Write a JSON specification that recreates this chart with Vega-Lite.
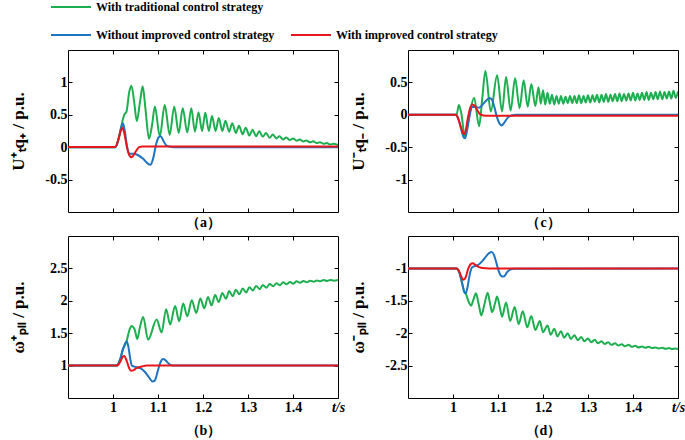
{
 "$schema": "https://vega.github.io/schema/vega-lite/v6.json",
 "background": "white",
 "padding": {"left": 8, "top": -14, "right": 0, "bottom": 0},
 "datasets": {
  "a": [
   {"s":"R","t":0.9,"v":0.005},{"s":"R","t":1.005,"v":0.005},{"s":"R","t":1.012,"v":0.12},{"s":"R","t":1.018,"v":0.27},{"s":"R","t":1.021,"v":0.30},{"s":"R","t":1.025,"v":0.22},{"s":"R","t":1.031,"v":0.0},{"s":"R","t":1.036,"v":-0.12},{"s":"R","t":1.041,"v":-0.155},{"s":"R","t":1.046,"v":-0.12},{"s":"R","t":1.052,"v":-0.05},{"s":"R","t":1.058,"v":0.0},{"s":"R","t":1.066,"v":0.012},{"s":"R","t":1.09,"v":0.01},{"s":"R","t":1.5,"v":0.01},
   {"s":"B","t":0.9,"v":0},{"s":"B","t":1.005,"v":0},{"s":"B","t":1.012,"v":0.12},{"s":"B","t":1.018,"v":0.30},{"s":"B","t":1.022,"v":0.37},{"s":"B","t":1.026,"v":0.26},{"s":"B","t":1.031,"v":0.02},{"s":"B","t":1.036,"v":-0.10},{"s":"B","t":1.045,"v":-0.10},{"s":"B","t":1.055,"v":-0.12},{"s":"B","t":1.067,"v":-0.18},{"s":"B","t":1.077,"v":-0.25},{"s":"B","t":1.083,"v":-0.27},{"s":"B","t":1.089,"v":-0.18},{"s":"B","t":1.095,"v":0.02},{"s":"B","t":1.101,"v":0.15},{"s":"B","t":1.106,"v":0.17},{"s":"B","t":1.112,"v":0.10},{"s":"B","t":1.118,"v":0.03},{"s":"B","t":1.125,"v":0.01},{"s":"B","t":1.135,"v":0},{"s":"B","t":1.5,"v":0},
   {"s":"G","t":0.9,"v":0},{"s":"G","t":1.005,"v":0},{"s":"G","t":1.012,"v":0.12},{"s":"G","t":1.018,"v":0.30},{"s":"G","t":1.021,"v":0.40},{"s":"G","t":1.025,"v":0.50},{"s":"G","t":1.030,"v":0.55},{"s":"G","t":1.036,"v":0.85},{"s":"G","t":1.041,"v":0.95},{"s":"G","t":1.047,"v":0.70},{"s":"G","t":1.053,"v":0.40},{"s":"G","t":1.060,"v":0.70},{"s":"G","t":1.066,"v":0.94},{"s":"G","t":1.072,"v":0.60},{"s":"G","t":1.080,"v":0.13},{"s":"G","t":1.087,"v":0.35},{"s":"G","t":1.093,"v":0.63},{"s":"G","t":1.104,"v":0.17},{"s":"G","t":1.115,"v":0.65},{"s":"G","t":1.126,"v":0.19},{"s":"G","t":1.136,"v":0.63},{"s":"G","t":1.146,"v":0.22},{"s":"G","t":1.155,"v":0.60},{"s":"G","t":1.165,"v":0.23},{"s":"G","t":1.174,"v":0.60},{"s":"G","t":1.182,"v":0.24},{"s":"G","t":1.190,"v":0.54},{"s":"G","t":1.198,"v":0.25},{"s":"G","t":1.205,"v":0.53},{"s":"G","t":1.213,"v":0.25},{"s":"G","t":1.220,"v":0.48},{"s":"G","t":1.228,"v":0.25},{"s":"G","t":1.235,"v":0.45},{"s":"G","t":1.243,"v":0.25},{"s":"G","t":1.250,"v":0.41},{"s":"G","t":1.258,"v":0.24},{"s":"G","t":1.265,"v":0.37},{"s":"G","t":1.273,"v":0.22},{"s":"G","t":1.280,"v":0.33},{"s":"G","t":1.288,"v":0.20},{"s":"G","t":1.295,"v":0.30},{"s":"G","t":1.303,"v":0.18},{"s":"G","t":1.310,"v":0.27},{"s":"G","t":1.318,"v":0.17},{"s":"G","t":1.325,"v":0.245},{"s":"G","t":1.333,"v":0.16},{"s":"G","t":1.340,"v":0.22},{"s":"G","t":1.348,"v":0.145},{"s":"G","t":1.355,"v":0.195},{"s":"G","t":1.363,"v":0.135},{"s":"G","t":1.370,"v":0.17},{"s":"G","t":1.378,"v":0.12},{"s":"G","t":1.385,"v":0.15},{"s":"G","t":1.393,"v":0.11},{"s":"G","t":1.400,"v":0.135},{"s":"G","t":1.408,"v":0.10},{"s":"G","t":1.415,"v":0.12},{"s":"G","t":1.423,"v":0.088},{"s":"G","t":1.430,"v":0.105},{"s":"G","t":1.438,"v":0.075},{"s":"G","t":1.445,"v":0.09},{"s":"G","t":1.453,"v":0.063},{"s":"G","t":1.460,"v":0.077},{"s":"G","t":1.468,"v":0.052},{"s":"G","t":1.475,"v":0.064},{"s":"G","t":1.483,"v":0.042},{"s":"G","t":1.490,"v":0.052},{"s":"G","t":1.5,"v":0.032}
  ],
  "b": [
   {"s":"R","t":0.9,"v":1},{"s":"R","t":1.01,"v":1},{"s":"R","t":1.016,"v":1.06},{"s":"R","t":1.022,"v":1.14},{"s":"R","t":1.025,"v":1.15},{"s":"R","t":1.03,"v":1.08},{"s":"R","t":1.036,"v":0.96},{"s":"R","t":1.04,"v":0.92},{"s":"R","t":1.046,"v":0.93},{"s":"R","t":1.052,"v":0.96},{"s":"R","t":1.058,"v":0.975},{"s":"R","t":1.066,"v":0.99},{"s":"R","t":1.075,"v":1.0},{"s":"R","t":1.5,"v":1.0},
   {"s":"B","t":0.9,"v":1},{"s":"B","t":1.008,"v":1},{"s":"B","t":1.015,"v":1.08},{"s":"B","t":1.022,"v":1.25},{"s":"B","t":1.03,"v":1.37},{"s":"B","t":1.034,"v":1.3},{"s":"B","t":1.038,"v":1.12},{"s":"B","t":1.042,"v":1.0},{"s":"B","t":1.05,"v":0.98},{"s":"B","t":1.06,"v":0.96},{"s":"B","t":1.07,"v":0.91},{"s":"B","t":1.08,"v":0.82},{"s":"B","t":1.088,"v":0.755},{"s":"B","t":1.093,"v":0.77},{"s":"B","t":1.1,"v":0.93},{"s":"B","t":1.106,"v":1.06},{"s":"B","t":1.111,"v":1.1},{"s":"B","t":1.117,"v":1.08},{"s":"B","t":1.124,"v":1.03},{"s":"B","t":1.132,"v":1.0},{"s":"B","t":1.5,"v":1.0},
   {"s":"G","t":0.9,"v":1},{"s":"G","t":1.008,"v":1},{"s":"G","t":1.015,"v":1.08},{"s":"G","t":1.022,"v":1.25},{"s":"G","t":1.03,"v":1.37},{"s":"G","t":1.037,"v":1.56},{"s":"G","t":1.041,"v":1.61},{"s":"G","t":1.048,"v":1.56},{"s":"G","t":1.054,"v":1.41},{"s":"G","t":1.06,"v":1.6},{"s":"G","t":1.067,"v":1.75},{"s":"G","t":1.078,"v":1.40},{"s":"G","t":1.097,"v":1.71},{"s":"G","t":1.108,"v":1.51},{"s":"G","t":1.118,"v":1.87},{"s":"G","t":1.127,"v":1.635},{"s":"G","t":1.138,"v":1.92},{"s":"G","t":1.147,"v":1.685},{"s":"G","t":1.156,"v":1.96},{"s":"G","t":1.165,"v":1.76},{"s":"G","t":1.175,"v":2.01},{"s":"G","t":1.185,"v":1.81},{"s":"G","t":1.194,"v":2.035},{"s":"G","t":1.203,"v":1.885},{"s":"G","t":1.211,"v":2.06},{"s":"G","t":1.219,"v":1.93},{"s":"G","t":1.227,"v":2.09},{"s":"G","t":1.235,"v":1.98},{"s":"G","t":1.243,"v":2.12},{"s":"G","t":1.251,"v":2.03},{"s":"G","t":1.258,"v":2.15},{"s":"G","t":1.266,"v":2.07},{"s":"G","t":1.273,"v":2.17},{"s":"G","t":1.281,"v":2.10},{"s":"G","t":1.288,"v":2.19},{"s":"G","t":1.296,"v":2.13},{"s":"G","t":1.303,"v":2.21},{"s":"G","t":1.311,"v":2.16},{"s":"G","t":1.318,"v":2.23},{"s":"G","t":1.326,"v":2.18},{"s":"G","t":1.333,"v":2.245},{"s":"G","t":1.341,"v":2.20},{"s":"G","t":1.348,"v":2.26},{"s":"G","t":1.356,"v":2.225},{"s":"G","t":1.363,"v":2.27},{"s":"G","t":1.371,"v":2.24},{"s":"G","t":1.378,"v":2.285},{"s":"G","t":1.386,"v":2.255},{"s":"G","t":1.393,"v":2.29},{"s":"G","t":1.401,"v":2.265},{"s":"G","t":1.408,"v":2.30},{"s":"G","t":1.416,"v":2.28},{"s":"G","t":1.423,"v":2.305},{"s":"G","t":1.431,"v":2.285},{"s":"G","t":1.438,"v":2.31},{"s":"G","t":1.446,"v":2.295},{"s":"G","t":1.453,"v":2.315},{"s":"G","t":1.461,"v":2.30},{"s":"G","t":1.468,"v":2.32},{"s":"G","t":1.476,"v":2.305},{"s":"G","t":1.483,"v":2.322},{"s":"G","t":1.491,"v":2.31},{"s":"G","t":1.5,"v":2.32}
  ],
  "c": [
   {"s":"R","t":0.9,"v":0},{"s":"R","t":1.006,"v":0},{"s":"R","t":1.012,"v":-0.07},{"s":"R","t":1.018,"v":-0.2},{"s":"R","t":1.024,"v":-0.3},{"s":"R","t":1.028,"v":-0.25},{"s":"R","t":1.033,"v":-0.05},{"s":"R","t":1.038,"v":0.1},{"s":"R","t":1.043,"v":0.16},{"s":"R","t":1.048,"v":0.14},{"s":"R","t":1.054,"v":0.07},{"s":"R","t":1.06,"v":0.01},{"s":"R","t":1.068,"v":-0.01},{"s":"R","t":1.08,"v":-0.015},{"s":"R","t":1.5,"v":-0.015},
   {"s":"B","t":0.9,"v":0},{"s":"B","t":1.006,"v":0},{"s":"B","t":1.012,"v":-0.06},{"s":"B","t":1.018,"v":-0.22},{"s":"B","t":1.024,"v":-0.35},{"s":"B","t":1.027,"v":-0.36},{"s":"B","t":1.031,"v":-0.25},{"s":"B","t":1.036,"v":-0.05},{"s":"B","t":1.042,"v":0.12},{"s":"B","t":1.05,"v":0.12},{"s":"B","t":1.058,"v":0.11},{"s":"B","t":1.066,"v":0.16},{"s":"B","t":1.074,"v":0.22},{"s":"B","t":1.081,"v":0.26},{"s":"B","t":1.086,"v":0.24},{"s":"B","t":1.092,"v":0.12},{"s":"B","t":1.097,"v":-0.02},{"s":"B","t":1.103,"v":-0.13},{"s":"B","t":1.108,"v":-0.165},{"s":"B","t":1.114,"v":-0.12},{"s":"B","t":1.122,"v":-0.04},{"s":"B","t":1.13,"v":-0.01},{"s":"B","t":1.14,"v":0},{"s":"B","t":1.5,"v":0},
   {"s":"G","t":0.9,"v":0},{"s":"G","t":1.008,"v":0},{"s":"G","t":1.013,"v":0.15},{"s":"G","t":1.019,"v":0.0},{"s":"G","t":1.026,"v":-0.33},{"s":"G","t":1.031,"v":-0.2},{"s":"G","t":1.036,"v":-0.02},{"s":"G","t":1.047,"v":0.265},{"s":"G","t":1.058,"v":-0.175},{"s":"G","t":1.065,"v":0.25},{"s":"G","t":1.072,"v":0.675},{"s":"G","t":1.084,"v":0.05},{"s":"G","t":1.098,"v":0.61},{"s":"G","t":1.109,"v":0.05},{"s":"G","t":1.118,"v":0.585},{"s":"G","t":1.128,"v":0.065},{"s":"G","t":1.138,"v":0.565},{"s":"G","t":1.148,"v":0.10},{"s":"G","t":1.157,"v":0.535},{"s":"G","t":1.166,"v":0.125},{"s":"G","t":1.174,"v":0.475},{"s":"G","t":1.183,"v":0.135},{"s":"G","t":1.19,"v":0.425},{"s":"G","t":1.195,"v":0.17},{"s":"G","t":1.20,"v":0.38},{"s":"G","t":1.205,"v":0.16},{"s":"G","t":1.21,"v":0.34},{"s":"G","t":1.215,"v":0.17},{"s":"G","t":1.22,"v":0.31},{"s":"G","t":1.225,"v":0.16},{"s":"G","t":1.23,"v":0.29},{"s":"G","t":1.235,"v":0.17},{"s":"G","t":1.24,"v":0.29},{"s":"G","t":1.245,"v":0.17},{"s":"G","t":1.25,"v":0.28},{"s":"G","t":1.255,"v":0.18},{"s":"G","t":1.26,"v":0.29},{"s":"G","t":1.265,"v":0.18},{"s":"G","t":1.27,"v":0.29},{"s":"G","t":1.275,"v":0.18},{"s":"G","t":1.28,"v":0.30},{"s":"G","t":1.285,"v":0.18},{"s":"G","t":1.29,"v":0.29},{"s":"G","t":1.295,"v":0.19},{"s":"G","t":1.30,"v":0.30},{"s":"G","t":1.305,"v":0.19},{"s":"G","t":1.31,"v":0.30},{"s":"G","t":1.315,"v":0.20},{"s":"G","t":1.32,"v":0.31},{"s":"G","t":1.325,"v":0.19},{"s":"G","t":1.33,"v":0.31},{"s":"G","t":1.335,"v":0.20},{"s":"G","t":1.34,"v":0.32},{"s":"G","t":1.345,"v":0.20},{"s":"G","t":1.35,"v":0.31},{"s":"G","t":1.355,"v":0.21},{"s":"G","t":1.36,"v":0.32},{"s":"G","t":1.365,"v":0.21},{"s":"G","t":1.37,"v":0.33},{"s":"G","t":1.375,"v":0.21},{"s":"G","t":1.38,"v":0.32},{"s":"G","t":1.385,"v":0.22},{"s":"G","t":1.39,"v":0.33},{"s":"G","t":1.395,"v":0.22},{"s":"G","t":1.40,"v":0.34},{"s":"G","t":1.405,"v":0.22},{"s":"G","t":1.41,"v":0.33},{"s":"G","t":1.415,"v":0.23},{"s":"G","t":1.42,"v":0.34},{"s":"G","t":1.425,"v":0.23},{"s":"G","t":1.43,"v":0.35},{"s":"G","t":1.435,"v":0.23},{"s":"G","t":1.44,"v":0.34},{"s":"G","t":1.445,"v":0.24},{"s":"G","t":1.45,"v":0.35},{"s":"G","t":1.455,"v":0.24},{"s":"G","t":1.46,"v":0.36},{"s":"G","t":1.465,"v":0.24},{"s":"G","t":1.47,"v":0.35},{"s":"G","t":1.475,"v":0.25},{"s":"G","t":1.48,"v":0.36},{"s":"G","t":1.485,"v":0.25},{"s":"G","t":1.49,"v":0.37},{"s":"G","t":1.495,"v":0.26},{"s":"G","t":1.5,"v":0.36}
  ],
  "d": [
   {"s":"R","t":0.9,"v":-1},{"s":"R","t":1.008,"v":-1},{"s":"R","t":1.014,"v":-1.05},{"s":"R","t":1.02,"v":-1.15},{"s":"R","t":1.023,"v":-1.175},{"s":"R","t":1.028,"v":-1.14},{"s":"R","t":1.034,"v":-1.0},{"s":"R","t":1.04,"v":-0.93},{"s":"R","t":1.044,"v":-0.92},{"s":"R","t":1.05,"v":-0.95},{"s":"R","t":1.058,"v":-0.98},{"s":"R","t":1.066,"v":-0.995},{"s":"R","t":1.08,"v":-1.0},{"s":"R","t":1.5,"v":-1.0},
   {"s":"B","t":0.9,"v":-1},{"s":"B","t":1.008,"v":-1},{"s":"B","t":1.014,"v":-1.06},{"s":"B","t":1.02,"v":-1.22},{"s":"B","t":1.025,"v":-1.36},{"s":"B","t":1.028,"v":-1.385},{"s":"B","t":1.032,"v":-1.3},{"s":"B","t":1.037,"v":-1.1},{"s":"B","t":1.042,"v":-0.985},{"s":"B","t":1.05,"v":-0.96},{"s":"B","t":1.058,"v":-0.935},{"s":"B","t":1.066,"v":-0.88},{"s":"B","t":1.074,"v":-0.81},{"s":"B","t":1.081,"v":-0.76},{"s":"B","t":1.086,"v":-0.745},{"s":"B","t":1.091,"v":-0.79},{"s":"B","t":1.097,"v":-0.93},{"s":"B","t":1.102,"v":-1.05},{"s":"B","t":1.108,"v":-1.12},{"s":"B","t":1.113,"v":-1.125},{"s":"B","t":1.12,"v":-1.06},{"s":"B","t":1.127,"v":-1.02},{"s":"B","t":1.135,"v":-1.005},{"s":"B","t":1.5,"v":-1.0},
   {"s":"G","t":0.9,"v":-1},{"s":"G","t":1.008,"v":-1},{"s":"G","t":1.014,"v":-1.06},{"s":"G","t":1.02,"v":-1.22},{"s":"G","t":1.025,"v":-1.36},{"s":"G","t":1.028,"v":-1.385},{"s":"G","t":1.034,"v":-1.5},{"s":"G","t":1.040,"v":-1.575},{"s":"G","t":1.046,"v":-1.47},{"s":"G","t":1.051,"v":-1.385},{"s":"G","t":1.057,"v":-1.55},{"s":"G","t":1.063,"v":-1.725},{"s":"G","t":1.07,"v":-1.55},{"s":"G","t":1.077,"v":-1.375},{"s":"G","t":1.082,"v":-1.53},{"s":"G","t":1.087,"v":-1.675},{"s":"G","t":1.093,"v":-1.55},{"s":"G","t":1.098,"v":-1.435},{"s":"G","t":1.104,"v":-1.6},{"s":"G","t":1.109,"v":-1.745},{"s":"G","t":1.118,"v":-1.525},{"s":"G","t":1.127,"v":-1.81},{"s":"G","t":1.137,"v":-1.595},{"s":"G","t":1.146,"v":-1.86},{"s":"G","t":1.155,"v":-1.66},{"s":"G","t":1.165,"v":-1.91},{"s":"G","t":1.174,"v":-1.735},{"s":"G","t":1.183,"v":-1.95},{"s":"G","t":1.193,"v":-1.81},{"s":"G","t":1.2,"v":-1.985},{"s":"G","t":1.21,"v":-1.88},{"s":"G","t":1.217,"v":-2.025},{"s":"G","t":1.225,"v":-1.93},{"s":"G","t":1.232,"v":-2.05},{"s":"G","t":1.24,"v":-1.97},{"s":"G","t":1.247,"v":-2.07},{"s":"G","t":1.255,"v":-2.0},{"s":"G","t":1.262,"v":-2.09},{"s":"G","t":1.27,"v":-2.03},{"s":"G","t":1.277,"v":-2.11},{"s":"G","t":1.285,"v":-2.06},{"s":"G","t":1.292,"v":-2.125},{"s":"G","t":1.30,"v":-2.08},{"s":"G","t":1.307,"v":-2.14},{"s":"G","t":1.315,"v":-2.10},{"s":"G","t":1.322,"v":-2.155},{"s":"G","t":1.33,"v":-2.125},{"s":"G","t":1.337,"v":-2.165},{"s":"G","t":1.345,"v":-2.14},{"s":"G","t":1.352,"v":-2.18},{"s":"G","t":1.36,"v":-2.155},{"s":"G","t":1.367,"v":-2.19},{"s":"G","t":1.375,"v":-2.17},{"s":"G","t":1.382,"v":-2.20},{"s":"G","t":1.39,"v":-2.18},{"s":"G","t":1.397,"v":-2.21},{"s":"G","t":1.405,"v":-2.195},{"s":"G","t":1.412,"v":-2.22},{"s":"G","t":1.42,"v":-2.205},{"s":"G","t":1.427,"v":-2.225},{"s":"G","t":1.435,"v":-2.21},{"s":"G","t":1.442,"v":-2.23},{"s":"G","t":1.45,"v":-2.22},{"s":"G","t":1.457,"v":-2.235},{"s":"G","t":1.465,"v":-2.225},{"s":"G","t":1.472,"v":-2.24},{"s":"G","t":1.48,"v":-2.23},{"s":"G","t":1.487,"v":-2.245},{"s":"G","t":1.495,"v":-2.235},{"s":"G","t":1.5,"v":-2.245}
  ]
 },
 "columns": 2,
 "spacing": {"row": 24, "column": 70},
 "bounds": "flush",
 "concat": [
  {
   "width": 270, "height": 162, "data": {"name": "a"},
   "layer": [
    {"transform": [{"filter": "datum.s == 'G'"}], "mark": {"type": "line", "clip": true},
     "encoding": {
      "x": {"field": "t", "type": "quantitative", "scale": {"domain": [0.9, 1.5], "nice": false, "zero": false}, "axis": {"values": [1, 1.1, 1.2, 1.3, 1.4], "labels": false, "title": "（a）", "titleFontSize": 14, "titleBaseline": "middle", "titleY": 10}},
      "y": {"field": "v", "type": "quantitative", "scale": {"domain": [-1, 1.5], "nice": false, "zero": false}, "axis": {"values": [-0.5, 0, 0.5, 1], "labelExpr": "datum.value < 0 ? '-' + format(-datum.value, '~g') : format(datum.value, '~g')", "title": "U⁺ₜq₊ / p.u.", "titleBaseline": "middle", "titleX": -50}},
      "stroke": {"field": "s", "type": "nominal", "scale": {"domain": ["G"], "range": ["#1DAF4F"]}, "legend": {"orient": "none", "legendX": -18, "legendY": -64, "title": null, "labelExpr": "'With traditional control strategy'"}}
     }},
    {"transform": [{"filter": "datum.s == 'B'"}], "mark": {"type": "line", "clip": true},
     "encoding": {
      "x": {"field": "t", "type": "quantitative", "axis": {"orient": "top", "values": [1, 1.1, 1.2, 1.3, 1.4], "labels": false, "title": null}},
      "y": {"field": "v", "type": "quantitative", "axis": {"orient": "right", "values": [-0.5, 0, 0.5, 1], "labels": false, "title": null}},
      "color": {"field": "s", "type": "nominal", "scale": {"domain": ["B", "R"], "range": ["#1F74C1", "#E8161B"]}, "legend": {"orient": "none", "legendX": -18, "legendY": -36, "title": null, "direction": "horizontal", "columnPadding": 12, "labelExpr": "datum.label == 'B' ? 'Without improved control strategy' : 'With improved control strategy'"}}
     }},
    {"transform": [{"filter": "datum.s == 'R'"}], "mark": {"type": "line", "clip": true},
     "encoding": {
      "x": {"field": "t", "type": "quantitative", "axis": null},
      "y": {"field": "v", "type": "quantitative", "axis": null},
      "color": {"field": "s", "type": "nominal"}
     }}
   ],
   "resolve": {"axis": {"x": "independent", "y": "independent"}}
  },
  {
   "width": 270, "height": 162, "data": {"name": "c"},
   "layer": [
    {"transform": [{"filter": "datum.s == 'G'"}], "mark": {"type": "line", "clip": true},
     "encoding": {
      "x": {"field": "t", "type": "quantitative", "scale": {"domain": [0.9, 1.5], "nice": false, "zero": false}, "axis": {"values": [1, 1.1, 1.2, 1.3, 1.4], "labels": false, "title": "（c）", "titleFontSize": 14, "titleBaseline": "middle", "titleY": 10}},
      "y": {"field": "v", "type": "quantitative", "scale": {"domain": [-1.5, 1], "nice": false, "zero": false}, "axis": {"values": [-1, -0.5, 0, 0.5], "labelExpr": "datum.value < 0 ? '-' + format(-datum.value, '~g') : format(datum.value, '~g')", "title": "U⁻ₜq₋ / p.u.", "titleBaseline": "middle", "titleX": -50}},
      "stroke": {"field": "s", "type": "nominal", "scale": {"domain": ["G"], "range": ["#1DAF4F"]}, "legend": {"orient": "none", "legendX": -18, "legendY": -64, "title": null, "labelExpr": "'With traditional control strategy'"}}
     }},
    {"transform": [{"filter": "datum.s == 'B'"}], "mark": {"type": "line", "clip": true},
     "encoding": {
      "x": {"field": "t", "type": "quantitative", "axis": {"orient": "top", "values": [1, 1.1, 1.2, 1.3, 1.4], "labels": false, "title": null}},
      "y": {"field": "v", "type": "quantitative", "axis": {"orient": "right", "values": [-1, -0.5, 0, 0.5], "labels": false, "title": null}},
      "color": {"field": "s", "type": "nominal", "scale": {"domain": ["B", "R"], "range": ["#1F74C1", "#E8161B"]}, "legend": {"orient": "none", "legendX": -18, "legendY": -36, "title": null, "direction": "horizontal", "columnPadding": 12, "labelExpr": "datum.label == 'B' ? 'Without improved control strategy' : 'With improved control strategy'"}}
     }},
    {"transform": [{"filter": "datum.s == 'R'"}], "mark": {"type": "line", "clip": true},
     "encoding": {
      "x": {"field": "t", "type": "quantitative", "axis": null},
      "y": {"field": "v", "type": "quantitative", "axis": null},
      "color": {"field": "s", "type": "nominal"}
     }}
   ],
   "resolve": {"axis": {"x": "independent", "y": "independent"}}
  },
  {
   "width": 270, "height": 162, "data": {"name": "b"},
   "layer": [
    {"transform": [{"filter": "datum.s == 'G'"}], "mark": {"type": "line", "clip": true},
     "encoding": {
      "x": {"field": "t", "type": "quantitative", "scale": {"domain": [0.9, 1.5], "nice": false, "zero": false}, "axis": {"values": [1, 1.1, 1.2, 1.3, 1.4, 1.5], "labelExpr": "datum.value > 1.45 ? 't/s' : format(datum.value, '~g')", "labelFontStyle": {"condition": {"test": "datum.value > 1.45", "value": "italic"}, "value": "normal"}, "labelFlush": false, "labelOverlap": false, "labelPadding": 6, "title": "（b）", "titleFontSize": 14, "titleBaseline": "middle", "titleY": 32}},
      "y": {"field": "v", "type": "quantitative", "scale": {"domain": [0.5, 3], "nice": false, "zero": false}, "axis": {"values": [1, 1.5, 2, 2.5], "labelExpr": "format(datum.value, '~g')", "title": "ω⁺ₚₗₗ / p.u.", "titleBaseline": "middle", "titleX": -50}},
      "stroke": {"field": "s", "type": "nominal", "scale": {"domain": ["G"], "range": ["#1DAF4F"]}, "legend": {"orient": "none", "legendX": -18, "legendY": -64, "title": null, "labelExpr": "'With traditional control strategy'"}}
     }},
    {"transform": [{"filter": "datum.s == 'B'"}], "mark": {"type": "line", "clip": true},
     "encoding": {
      "x": {"field": "t", "type": "quantitative", "axis": {"orient": "top", "values": [1, 1.1, 1.2, 1.3, 1.4], "labels": false, "title": null}},
      "y": {"field": "v", "type": "quantitative", "axis": {"orient": "right", "values": [1, 1.5, 2, 2.5], "labels": false, "title": null}},
      "color": {"field": "s", "type": "nominal", "scale": {"domain": ["B", "R"], "range": ["#1F74C1", "#E8161B"]}, "legend": {"orient": "none", "legendX": -18, "legendY": -36, "title": null, "direction": "horizontal", "columnPadding": 12, "labelExpr": "datum.label == 'B' ? 'Without improved control strategy' : 'With improved control strategy'"}}
     }},
    {"transform": [{"filter": "datum.s == 'R'"}], "mark": {"type": "line", "clip": true},
     "encoding": {
      "x": {"field": "t", "type": "quantitative", "axis": null},
      "y": {"field": "v", "type": "quantitative", "axis": null},
      "color": {"field": "s", "type": "nominal"}
     }}
   ],
   "resolve": {"axis": {"x": "independent", "y": "independent"}}
  },
  {
   "width": 270, "height": 162, "data": {"name": "d"},
   "layer": [
    {"transform": [{"filter": "datum.s == 'G'"}], "mark": {"type": "line", "clip": true},
     "encoding": {
      "x": {"field": "t", "type": "quantitative", "scale": {"domain": [0.9, 1.5], "nice": false, "zero": false}, "axis": {"values": [1, 1.1, 1.2, 1.3, 1.4, 1.5], "labelExpr": "datum.value > 1.45 ? 't/s' : format(datum.value, '~g')", "labelFontStyle": {"condition": {"test": "datum.value > 1.45", "value": "italic"}, "value": "normal"}, "labelFlush": false, "labelOverlap": false, "labelPadding": 6, "title": "（d）", "titleFontSize": 14, "titleBaseline": "middle", "titleY": 32}},
      "y": {"field": "v", "type": "quantitative", "scale": {"domain": [-3, -0.5], "nice": false, "zero": false}, "axis": {"values": [-2.5, -2, -1.5, -1], "labelExpr": "datum.value < 0 ? '-' + format(-datum.value, '~g') : format(datum.value, '~g')", "title": "ω⁻ₚₗₗ / p.u.", "titleBaseline": "middle", "titleX": -50}},
      "stroke": {"field": "s", "type": "nominal", "scale": {"domain": ["G"], "range": ["#1DAF4F"]}, "legend": {"orient": "none", "legendX": -18, "legendY": -64, "title": null, "labelExpr": "'With traditional control strategy'"}}
     }},
    {"transform": [{"filter": "datum.s == 'B'"}], "mark": {"type": "line", "clip": true},
     "encoding": {
      "x": {"field": "t", "type": "quantitative", "axis": {"orient": "top", "values": [1, 1.1, 1.2, 1.3, 1.4], "labels": false, "title": null}},
      "y": {"field": "v", "type": "quantitative", "axis": {"orient": "right", "values": [-2.5, -2, -1.5, -1], "labels": false, "title": null}},
      "color": {"field": "s", "type": "nominal", "scale": {"domain": ["B", "R"], "range": ["#1F74C1", "#E8161B"]}, "legend": {"orient": "none", "legendX": -18, "legendY": -36, "title": null, "direction": "horizontal", "columnPadding": 12, "labelExpr": "datum.label == 'B' ? 'Without improved control strategy' : 'With improved control strategy'"}}
     }},
    {"transform": [{"filter": "datum.s == 'R'"}], "mark": {"type": "line", "clip": true},
     "encoding": {
      "x": {"field": "t", "type": "quantitative", "axis": null},
      "y": {"field": "v", "type": "quantitative", "axis": null},
      "color": {"field": "s", "type": "nominal"}
     }}
   ],
   "resolve": {"axis": {"x": "independent", "y": "independent"}}
  }
 ],
 "resolve": {
  "scale": {"x": "independent", "y": "independent", "color": "shared", "stroke": "shared"},
  "axis": {"x": "independent", "y": "independent"},
  "legend": {"color": "shared", "stroke": "shared"}
 },
 "config": {
  "view": {"stroke": "black", "strokeWidth": 1},
  "line": {"strokeWidth": 2, "interpolate": "monotone"},
  "axis": {"grid": false, "domain": false, "tickColor": "black", "tickSize": -4, "tickWidth": 1, "labelFont": "Liberation Serif", "labelFontWeight": "bold", "labelFontSize": 14, "labelColor": "black", "labelPadding": 5, "titleFont": "Liberation Serif", "titleFontWeight": "bold", "titleColor": "black", "titleFontSize": 17},
  "legend": {"labelFont": "Liberation Serif", "labelFontWeight": "bold", "labelFontSize": 12, "labelColor": "black", "labelLimit": 400, "symbolType": "stroke", "symbolSize": 1600, "symbolStrokeWidth": 2.5, "padding": 0, "labelOffset": 4}
 }
}
